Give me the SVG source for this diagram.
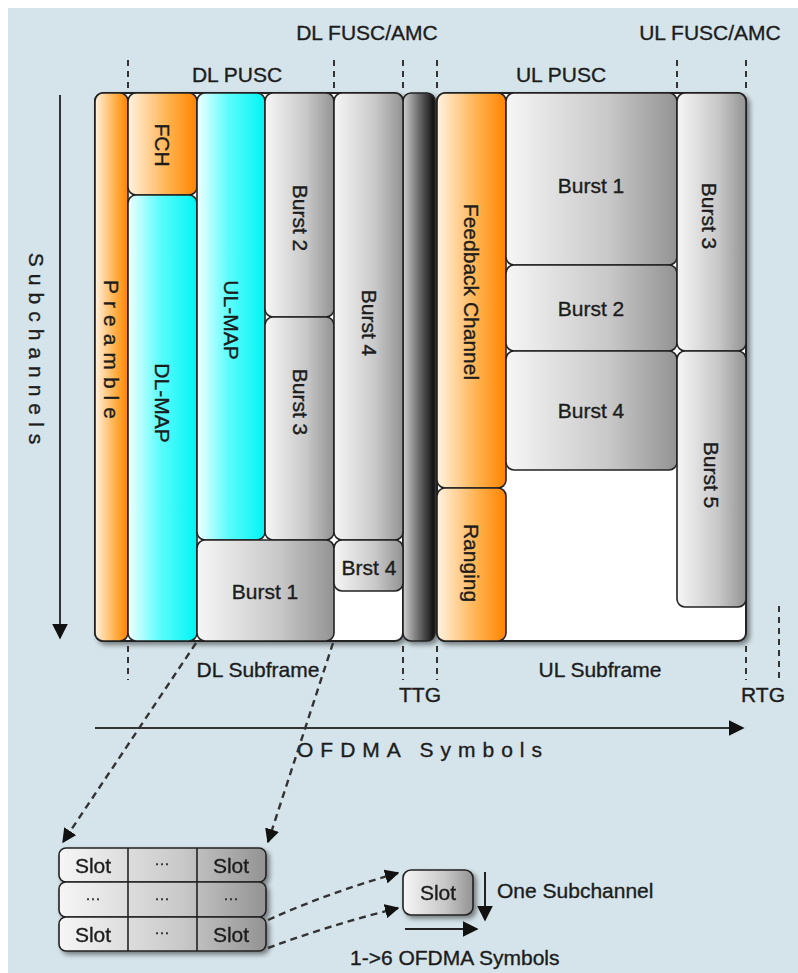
<svg xmlns="http://www.w3.org/2000/svg" width="798" height="973" viewBox="0 0 798 973">
<defs>
<linearGradient id="gOr" x1="0" y1="0" x2="1" y2="0"><stop offset="0" stop-color="#fff2e0"/><stop offset="0.6" stop-color="#ffb04a"/><stop offset="1" stop-color="#ff8400"/></linearGradient>
<linearGradient id="gCy" x1="0" y1="0" x2="1" y2="0"><stop offset="0" stop-color="#f2ffff"/><stop offset="0.45" stop-color="#5ffcfc"/><stop offset="1" stop-color="#00f4f4"/></linearGradient>
<linearGradient id="gGr" x1="0" y1="0" x2="1" y2="0"><stop offset="0" stop-color="#f6f6f6"/><stop offset="0.6" stop-color="#c8c8c8"/><stop offset="1" stop-color="#939393"/></linearGradient>
<linearGradient id="gDk" x1="0" y1="0" x2="1" y2="0"><stop offset="0" stop-color="#d0d0d0"/><stop offset="0.5" stop-color="#6a6a6a"/><stop offset="1" stop-color="#0a0a0a"/></linearGradient>
<filter id="sh" x="-10%" y="-10%" width="130%" height="130%"><feGaussianBlur in="SourceAlpha" stdDeviation="2.5"/><feOffset dx="3" dy="3"/><feComponentTransfer><feFuncA type="linear" slope="0.45"/></feComponentTransfer><feMerge><feMergeNode/><feMergeNode in="SourceGraphic"/></feMerge></filter>
<marker id="ah" viewBox="0 0 10 10" refX="9" refY="5" markerWidth="6" markerHeight="6" orient="auto" markerUnits="strokeWidth"><path d="M0,0 L10,5 L0,10 z" fill="#111" stroke="none"/></marker>
<marker id="ah2" viewBox="0 0 10 10" refX="9" refY="5" markerWidth="8" markerHeight="8" orient="auto" markerUnits="strokeWidth"><path d="M0,0 L10,5 L0,10 z" fill="#111" stroke="none"/></marker>
</defs>
<style>
text{font-family:"Liberation Sans",Arial,sans-serif;fill:#1c1c1c;stroke:#1c1c1c;stroke-width:0.35;font-size:21px}
.c{text-anchor:middle}
.v{text-anchor:middle;dominant-baseline:central}
.box{stroke:#222;stroke-width:1.6}
.frame{fill:#fff;stroke:#222;stroke-width:2}
.or{fill:url(#gOr)}
.cy{fill:url(#gCy)}
.gr{fill:url(#gGr)}
.dk{fill:url(#gDk)}
.dash{fill:none;stroke:#333;stroke-width:2;stroke-dasharray:6 5}
.dash2{fill:none;stroke:#333;stroke-width:2.4;stroke-dasharray:7 5}
.sp{letter-spacing:7px}
.dots{font-size:15px}
</style>
<rect x="8" y="8" width="790" height="965" fill="#d5e4ea"/>

<g id="labels">
<text class="c" x="367" y="40">DL FUSC/AMC</text>
<text class="c" x="710" y="40">UL FUSC/AMC</text>
<text class="c" x="237" y="82">DL PUSC</text>
<text class="c" x="561" y="82">UL PUSC</text>
<text class="c" x="258" y="677">DL Subframe</text>
<text class="c" x="600" y="677">UL Subframe</text>
<text class="c" x="420" y="702">TTG</text>
<text class="c" x="763" y="702">RTG</text>
<text class="sp" x="297" y="757">OFDMA Symbols</text>
<text class="v sp" transform="translate(36,352) rotate(90)">Subchannels</text>
</g>

<g id="dl-frame" filter="url(#sh)">
<rect class="frame" x="95" y="93" width="308" height="548" rx="8"/>
</g>
<g id="ttg-gap" filter="url(#sh)">
<rect class="box dk" x="403" y="93" width="32" height="548" rx="8"/>
</g>
<g id="ul-frame" filter="url(#sh)">
<rect class="frame" x="437" y="93" width="309" height="548" rx="8"/>
</g>

<g id="preamble"><rect class="box or" x="95" y="93" width="33" height="548" rx="8"/><text class="v sp" transform="translate(111,353) rotate(90)">Preamble</text></g>
<g id="fch"><rect class="box or" x="128" y="93" width="69" height="102" rx="8"/><text class="v" transform="translate(162,145) rotate(90)">FCH</text></g>
<g id="dl-map"><rect class="box cy" x="128" y="195" width="69" height="446" rx="8"/><text class="v" transform="translate(162,403) rotate(90)">DL-MAP</text></g>
<g id="ul-map"><rect class="box cy" x="197" y="93" width="68" height="447" rx="8"/><text class="v" transform="translate(231,320) rotate(90)">UL-MAP</text></g>
<g id="dl-burst2"><rect class="box gr" x="265" y="93" width="69" height="224" rx="8"/><text class="v" transform="translate(300,218) rotate(90)">Burst 2</text></g>
<g id="dl-burst3"><rect class="box gr" x="265" y="317" width="69" height="223" rx="8"/><text class="v" transform="translate(300,402) rotate(90)">Burst 3</text></g>
<g id="dl-burst4"><rect class="box gr" x="334" y="93" width="69" height="447" rx="8"/><text class="v" transform="translate(369,323) rotate(90)">Burst 4</text></g>
<g id="dl-burst1"><rect class="box gr" x="197" y="540" width="137" height="101" rx="8"/><text class="c" x="265" y="599">Burst 1</text></g>
<g id="dl-brst4"><rect class="box gr" x="334" y="540" width="69" height="51" rx="8"/><text class="c" x="369" y="575">Brst 4</text></g>

<g id="feedback"><rect class="box or" x="437" y="93" width="69" height="395" rx="8"/><text class="v" transform="translate(471,292) rotate(90)">Feedback Channel</text></g>
<g id="ranging"><rect class="box or" x="437" y="488" width="69" height="153" rx="8"/><text class="v" transform="translate(471,563) rotate(90)">Ranging</text></g>
<g id="ul-burst1"><rect class="box gr" x="506" y="93" width="171" height="172" rx="8"/><text class="c" x="591" y="193">Burst 1</text></g>
<g id="ul-burst2"><rect class="box gr" x="506" y="265" width="171" height="86" rx="8"/><text class="c" x="591" y="316">Burst 2</text></g>
<g id="ul-burst4"><rect class="box gr" x="506" y="351" width="171" height="119" rx="8"/><text class="c" x="591" y="418">Burst 4</text></g>
<g id="ul-burst3"><rect class="box gr" x="677" y="93" width="69" height="258" rx="8"/><text class="v" transform="translate(709,216) rotate(90)">Burst 3</text></g>
<g id="ul-burst5"><rect class="box gr" x="677" y="351" width="69" height="256" rx="8"/><text class="v" transform="translate(711,475) rotate(90)">Burst 5</text></g>

<g id="slot-grid" filter="url(#sh)">
<rect class="box gr" x="59" y="848" width="207" height="34" rx="7"/>
<rect class="box gr" x="59" y="882" width="207" height="35" rx="7"/>
<rect class="box gr" x="59" y="917" width="207" height="34" rx="7"/>
<line x1="128" y1="848" x2="128" y2="951" stroke="#222" stroke-width="1.6"/>
<line x1="197" y1="848" x2="197" y2="951" stroke="#222" stroke-width="1.6"/>
<text class="c" x="93" y="873">Slot</text>
<text class="c dots" x="162" y="868">···</text>
<text class="c" x="231" y="873">Slot</text>
<text class="c dots" x="93" y="903">···</text>
<text class="c dots" x="162" y="903">···</text>
<text class="c dots" x="231" y="903">···</text>
<text class="c" x="93" y="942">Slot</text>
<text class="c dots" x="162" y="937">···</text>
<text class="c" x="231" y="942">Slot</text>
</g>

<g id="slot-single" filter="url(#sh)">
<rect class="box gr" x="403" y="870" width="70" height="45" rx="8" stroke-width="2"/>
<text class="c" x="438" y="900">Slot</text>
</g>
<g id="slot-labels">
<text x="497" y="898">One Subchannel</text>
<text x="350" y="965">1-&gt;6 OFDMA Symbols</text>
</g>

<g id="connectors">
<line x1="128" y1="60" x2="128" y2="92" class="dash"/>
<line x1="334" y1="60" x2="334" y2="92" class="dash"/>
<line x1="403" y1="60" x2="403" y2="92" class="dash"/>
<line x1="437" y1="60" x2="437" y2="92" class="dash"/>
<line x1="677" y1="60" x2="677" y2="92" class="dash"/>
<line x1="746" y1="60" x2="746" y2="92" class="dash"/>
<line x1="128" y1="646" x2="128" y2="680" class="dash"/>
<line x1="403" y1="646" x2="403" y2="680" class="dash"/>
<line x1="437" y1="646" x2="437" y2="680" class="dash"/>
<line x1="746" y1="646" x2="746" y2="680" class="dash"/>
<line x1="779" y1="606" x2="779" y2="680" class="dash"/>
<line x1="60" y1="95" x2="60" y2="638" stroke="#333" stroke-width="2" marker-end="url(#ah2)"/>
<line x1="95" y1="728" x2="743" y2="728" stroke="#333" stroke-width="2" marker-end="url(#ah2)"/>
<line x1="196" y1="643" x2="63" y2="842" class="dash2" marker-end="url(#ah)"/>
<line x1="333" y1="643" x2="268" y2="842" class="dash2" marker-end="url(#ah)"/>
<path d="M268,920 Q330,892 398,873" class="dash2" marker-end="url(#ah)"/>
<path d="M268,948 Q330,925 398,908" class="dash2" marker-end="url(#ah)"/>
<line x1="485" y1="872" x2="485" y2="920" stroke="#222" stroke-width="2" marker-end="url(#ah2)"/>
<line x1="405" y1="929" x2="477" y2="929" stroke="#222" stroke-width="2" marker-end="url(#ah2)"/>
</g>
</svg>
